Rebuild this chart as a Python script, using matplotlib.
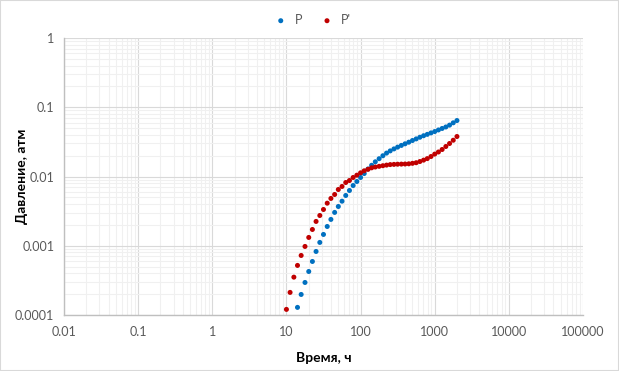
import matplotlib
matplotlib.use("Agg")
import matplotlib.pyplot as plt
from matplotlib.ticker import FixedLocator, FixedFormatter, LogLocator, NullFormatter
from matplotlib.patches import Rectangle
import numpy as np

plt.rcParams['font.family'] = ['Lato', 'DejaVu Sans']

# time, hours (shared grid)
time_h = [10.0, 11.2, 12.6, 14.1, 15.8, 17.8, 20.0, 22.4, 25.1, 28.2,
          31.6, 35.5, 39.8, 44.7, 50.1, 56.2, 63.1, 70.8, 79.4, 89.1,
          100, 112, 126, 141, 158, 178, 200, 224, 251, 282,
          316, 355, 398, 447, 501, 562, 631, 708, 794, 891,
          1000, 1122, 1259, 1413, 1585, 1778, 1995]

# P (first three values are below the axis minimum)
p_time = time_h[3:]
p_vals = [1.288e-4, 1.98e-4, 2.95e-4, 4.25e-4, 5.93e-4, 8.27e-4, 1.117e-3,
          1.456e-3, 1.898e-3, 2.40e-3, 3.03e-3, 3.69e-3, 4.40e-3, 5.32e-3,
          6.28e-3, 7.41e-3, 8.47e-3, 9.68e-3, 1.104e-2, 1.283e-2, 1.452e-2,
          1.630e-2, 1.807e-2, 1.995e-2, 2.178e-2, 2.343e-2, 2.503e-2, 2.656e-2,
          2.811e-2, 2.965e-2, 3.128e-2, 3.31e-2, 3.49e-2, 3.69e-2, 3.88e-2,
          4.06e-2, 4.26e-2, 4.46e-2, 4.70e-2, 4.94e-2, 5.19e-2, 5.52e-2,
          5.96e-2, 6.43e-2]

# P'
dp_vals = [1.205e-4, 2.12e-4, 3.52e-4, 5.20e-4, 7.24e-4, 9.77e-4, 1.318e-3,
           1.718e-3, 2.244e-3, 2.735e-3, 3.34e-3, 4.12e-3, 4.82e-3, 5.50e-3,
           6.49e-3, 7.18e-3, 8.19e-3, 8.75e-3, 9.68e-3, 1.045e-2, 1.130e-2,
           1.208e-2, 1.270e-2, 1.335e-2, 1.371e-2, 1.403e-2, 1.432e-2, 1.461e-2,
           1.486e-2, 1.496e-2, 1.505e-2, 1.510e-2, 1.515e-2, 1.525e-2, 1.550e-2,
           1.581e-2, 1.645e-2, 1.724e-2, 1.813e-2, 1.944e-2, 2.106e-2, 2.258e-2,
           2.455e-2, 2.712e-2, 2.995e-2, 3.34e-2, 3.78e-2]

x_ticks = [0.01, 0.1, 1, 10, 100, 1000, 10000, 100000]
x_tick_labels = ["0.01", "0.1", "1", "10", "100", "1000", "10000", "100000"]
y_ticks = [0.0001, 0.001, 0.01, 0.1, 1]
y_tick_labels = ["0.0001", "0.001", "0.01", "0.1", "1"]

fig = plt.figure(figsize=(6.19, 3.71), dpi=100)
fig.patches.append(Rectangle((0, 0), 1, 1, transform=fig.transFigure,
                             fill=False, edgecolor="#d9d9d9", linewidth=1.5))
ax = fig.add_axes([64/619, 1-315/371, (583-64)/619, (315-38)/371])

ax.set_xscale("log")
ax.set_yscale("log")
ax.set_xlim(0.01, 100000)
ax.set_ylim(0.0001, 1)

ax.xaxis.set_major_locator(FixedLocator(x_ticks))
ax.xaxis.set_major_formatter(FixedFormatter(x_tick_labels))
ax.yaxis.set_major_locator(FixedLocator(y_ticks))
ax.yaxis.set_major_formatter(FixedFormatter(y_tick_labels))
ax.xaxis.set_minor_locator(LogLocator(base=10, subs=np.arange(2, 10)))
ax.yaxis.set_minor_locator(LogLocator(base=10, subs=np.arange(2, 10)))
ax.xaxis.set_minor_formatter(NullFormatter())
ax.yaxis.set_minor_formatter(NullFormatter())

ax.grid(True, which="minor", color="#f0f0f0", linewidth=0.8)
ax.grid(True, which="major", color="#d9d9d9", linewidth=0.8)
ax.set_axisbelow(True)

for s in ["top", "right"]:
    ax.spines[s].set_visible(False)
for s in ["left", "bottom"]:
    ax.spines[s].set_color("#bfbfbf")
    ax.spines[s].set_linewidth(1.0)

ax.tick_params(which="both", length=0, colors="#595959", labelsize=9)
ax.tick_params(axis="x", pad=8)
ax.tick_params(axis="y", pad=7)

ax.scatter(p_time, p_vals, s=13, color="#0070C0", edgecolors="none",
           label="P", zorder=3, clip_on=False)
ax.scatter(time_h, dp_vals, s=13, color="#C00000", edgecolors="none",
           label="P'", zorder=4, clip_on=False)

ax.set_xlabel("Время, ч", fontsize=10, fontweight="bold", color="#000000", labelpad=10)
fig.text(22/619, 1-176/371, "Давление, атм", rotation=90, fontsize=10,
         fontweight="bold", color="#000000", ha="center", va="center")

leg = fig.legend(loc="center", bbox_to_anchor=(0.5, 1-20/371), ncol=2, frameon=False,
                 fontsize=9, handletextpad=0.1, columnspacing=1.0, markerscale=1.0)
for t in leg.get_texts():
    t.set_color("#595959")

fig.savefig("out.png", dpi=100)
